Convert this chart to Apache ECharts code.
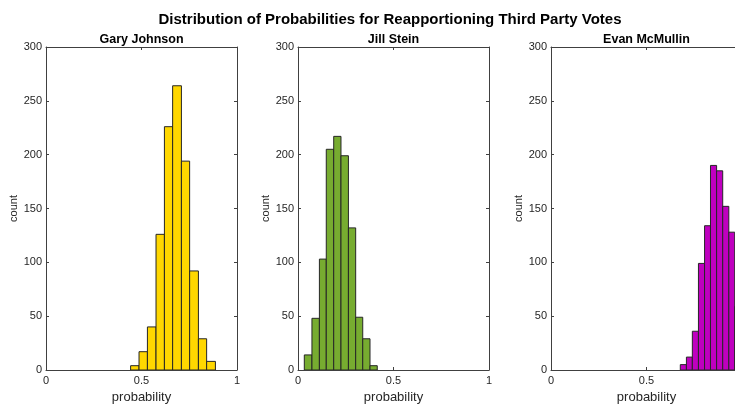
<!DOCTYPE html>
<html>
<head>
<meta charset="utf-8">
<script src="https://cdn.jsdelivr.net/npm/echarts@6/dist/echarts.min.js"></script>
<style>
  html, body { margin: 0; padding: 0; background: #fff; overflow: hidden; }
  #content { width: 735px; height: 404px; }
</style>
</head>
<body>
<div id="content"></div>
<script>
// histogram bin edges and counts
var candidates = ['Gary Johnson', 'Jill Stein', 'Evan McMullin'];
var johnsonEdges = [0.443, 0.487, 0.531, 0.576, 0.620, 0.663, 0.709, 0.752, 0.798, 0.841, 0.887];
var johnsonCounts = [4, 17, 40, 126, 226, 264, 194, 92, 29, 8];
var steinEdges = [0.033, 0.073, 0.112, 0.148, 0.187, 0.225, 0.264, 0.302, 0.339, 0.377, 0.415];
var steinCounts = [14, 48, 103, 205, 217, 199, 132, 49, 29, 4];
var mcmullinEdges = [0.677, 0.709, 0.740, 0.772, 0.804, 0.835, 0.867, 0.899, 0.931, 0.962, 0.994];
var mcmullinCounts = [5, 12, 36, 99, 134, 190, 185, 152, 128, 59];
var barColors = ['#FFD700', '#77AC30', '#BF00BF'];

var myChart = echarts.init(document.getElementById('content'));

var fontFam = '"Liberation Sans", Arial, Helvetica, sans-serif';
var axisCol = '#404040';
var textCol = '#262626';

var edgesList = [johnsonEdges, steinEdges, mcmullinEdges];
var countsList = [johnsonCounts, steinCounts, mcmullinCounts];
var lefts = [46, 298, 551];

var grids = [], xAxes = [], yAxes = [], series = [], titles = [];

// title left includes the 5px default padding
titles.push({
    text: 'Distribution of Probabilities for Reapportioning Third Party Votes',
    left: 385, top: 7, textAlign: 'center',
    textStyle: {fontFamily: fontFam, fontSize: 15, fontWeight: 'bold', color: '#000'}
});

for (var i = 0; i < 3; i++) {
    // fixed box, not shrunk to keep labels inside the canvas
    grids.push({left: lefts[i], top: 47, width: 191, height: 323, containLabel: false, outerBoundsMode: 'none'});
    titles.push({
        text: candidates[i],
        left: lefts[i] + 90.5, top: 28, textAlign: 'center',
        textStyle: {fontFamily: fontFam, fontSize: 12.5, fontWeight: 'bold', color: '#000'}
    });
    // bottom x axis
    xAxes.push({
        type: 'value', gridIndex: i, position: 'bottom', min: 0, max: 1, interval: 0.5,
        name: 'probability', nameLocation: 'middle', nameGap: 21,
        nameTextStyle: {fontFamily: fontFam, fontSize: 13, color: textCol},
        axisLine: {show: true, onZero: false, lineStyle: {color: axisCol, width: 1}},
        axisTick: {show: true, inside: true, length: 3, lineStyle: {color: axisCol}},
        axisLabel: {fontFamily: fontFam, fontSize: 11, color: textCol, margin: 5},
        splitLine: {show: false}
    });
    // top x axis (box)
    xAxes.push({
        type: 'value', gridIndex: i, position: 'top', min: 0, max: 1, interval: 0.5,
        axisLine: {show: true, onZero: false, lineStyle: {color: axisCol, width: 1}},
        axisTick: {show: true, inside: true, length: 3, lineStyle: {color: axisCol}},
        axisLabel: {show: false},
        splitLine: {show: false}
    });
    yAxes.push({
        type: 'value', gridIndex: i, position: 'left', min: 0, max: 300, interval: 50,
        name: 'count', nameLocation: 'middle', nameGap: 27, nameRotate: 90,
        nameTextStyle: {fontFamily: fontFam, fontSize: 11, color: textCol},
        axisLine: {show: true, onZero: false, lineStyle: {color: axisCol, width: 1}},
        axisTick: {show: true, inside: true, length: 3, lineStyle: {color: axisCol}},
        axisLabel: {fontFamily: fontFam, fontSize: 11, color: textCol, margin: 4},
        splitLine: {show: false}
    });
    yAxes.push({
        type: 'value', gridIndex: i, position: 'right', min: 0, max: 300, interval: 50,
        axisLine: {show: true, onZero: false, lineStyle: {color: axisCol, width: 1}},
        axisTick: {show: true, inside: true, length: 3, lineStyle: {color: axisCol}},
        axisLabel: {show: false},
        splitLine: {show: false}
    });

    var data = [];
    for (var k = 0; k < countsList[i].length; k++) {
        data.push([edgesList[i][k], edgesList[i][k + 1], countsList[i][k]]);
    }
    series.push({
        type: 'custom',
        xAxisIndex: i * 2,
        yAxisIndex: i * 2,
        clip: true,
        silent: true,
        renderItem: (function (col) {
            return function (params, api) {
                var p0 = api.coord([api.value(0), api.value(2)]);
                var p1 = api.coord([api.value(1), 0]);
                return {
                    type: 'rect',
                    shape: {x: p0[0], y: p0[1], width: p1[0] - p0[0], height: p1[1] - p0[1]},
                    style: {fill: col, stroke: '#262626', lineWidth: 1}
                };
            };
        })(barColors[i]),
        encode: {x: [0, 1], y: 2},
        data: data
    });
}

var option = {
    animation: false,
    backgroundColor: '#fff',
    title: titles,
    grid: grids,
    xAxis: xAxes,
    yAxis: yAxes,
    series: series
};
myChart.setOption(option);
</script>
</body>
</html>
